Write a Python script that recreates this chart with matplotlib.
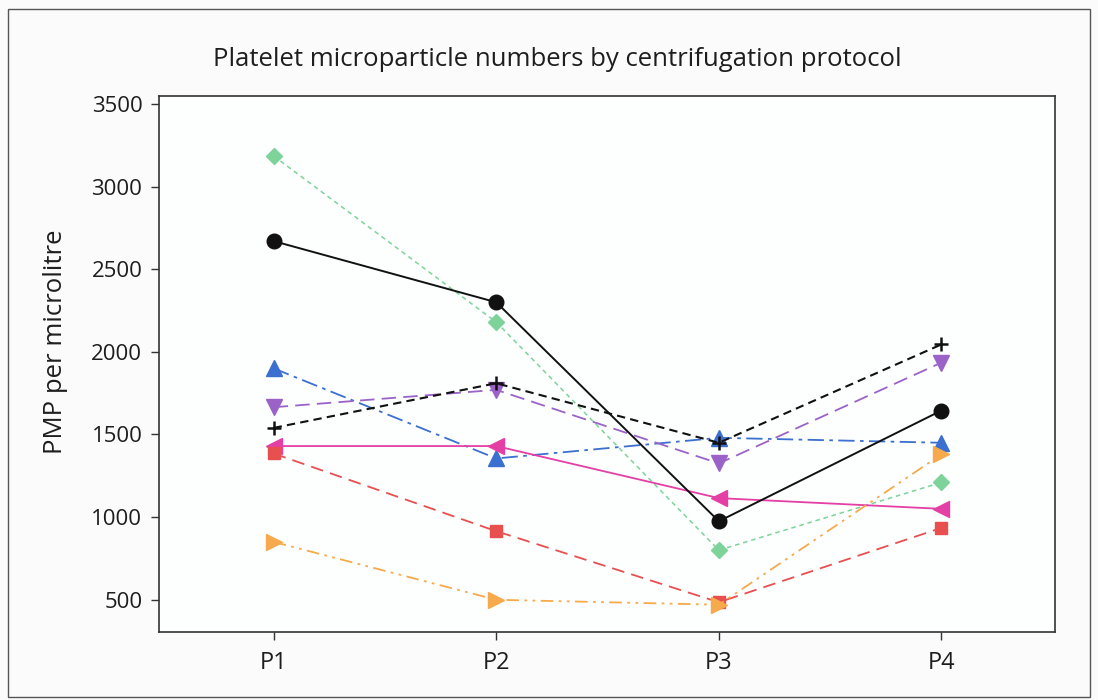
import matplotlib
matplotlib.use("Agg")
import matplotlib.pyplot as plt
from matplotlib.patches import Rectangle

protocols = ["P1", "P2", "P3", "P4"]

circle_black = [2670, 2300, 975, 1645]
diamond_green = [3185, 2180, 800, 1210]
triangle_blue = [1900, 1355, 1480, 1450]
down_purple = [1665, 1770, 1325, 1935]
plus_black = [1540, 1810, 1450, 2045]
left_pink = [1430, 1430, 1115, 1050]
square_red = [1385, 915, 485, 935]
right_orange = [850, 500, 470, 1380]

series = [
    (diamond_green, dict(color="#7dd39a", marker="D", ms=8.5, ls=(0, (3, 2.5)), lw=1.1)),
    (triangle_blue, dict(color="#3b6fd0", marker="^", ms=11, ls=(0, (9, 3, 2, 3)), lw=1.3)),
    (down_purple, dict(color="#9b63c8", marker="v", ms=11, ls=(0, (8, 4)), lw=1.3)),
    (plus_black, dict(color="#111111", marker="+", ms=10, mew=1.8, ls=(0, (4, 2.5)), lw=1.5)),
    (left_pink, dict(color="#e43fa5", marker="<", ms=11, ls="-", lw=1.3)),
    (square_red, dict(color="#e84f4f", marker="s", ms=9, ls=(0, (7, 4)), lw=1.3)),
    (right_orange, dict(color="#f6aa4c", marker=">", ms=11, ls=(0, (7, 3, 1.5, 3, 1.5, 3)), lw=1.3)),
    (circle_black, dict(color="#111111", marker="o", ms=10.5, ls="-", lw=1.4)),
]

plt.rcParams["font.family"] = ["Open Sans", "DejaVu Sans"]

fig = plt.figure(figsize=(10.98, 7.0), dpi=100)
fig.patch.set_facecolor("#fafbfa")
fig.add_artist(Rectangle((8 / 1098, 3 / 700), 1082 / 1098, 688 / 700,
                         transform=fig.transFigure, fill=False,
                         edgecolor="#555555", lw=1.0))

ax = fig.add_axes([159 / 1098, 68 / 700, 896 / 1098, 536 / 700])
ax.set_facecolor("#fdfefe")

x = list(range(1, len(protocols) + 1))
for values, style in series:
    ax.plot(x, values, **style)

ax.set_xlim(0.485, 4.51)
ax.set_ylim(305, 3548)
ax.set_xticks(x)
ax.set_xticklabels(protocols)
ax.set_yticks([500, 1000, 1500, 2000, 2500, 3000, 3500])
ax.tick_params(axis="both", length=6, width=1.0, color="#333333",
               labelcolor="#1e1e1e")
ax.tick_params(axis="y", labelsize=16, pad=6)
ax.tick_params(axis="x", labelsize=17, pad=8)
for sp in ax.spines.values():
    sp.set_color("#333333")
    sp.set_linewidth(1.2)

fig.text(56 / 1098, 1 - 342 / 700, "PMP per microlitre", rotation=90,
         ha="center", va="center", fontsize=18.5, color="#1e1e1e")
fig.text(557 / 1098, 1 - 60 / 700, "Platelet microparticle numbers by centrifugation protocol",
         ha="center", va="center", fontsize=18.5, color="#1e1e1e")

fig.savefig("out.png", dpi=100, facecolor=fig.get_facecolor())
